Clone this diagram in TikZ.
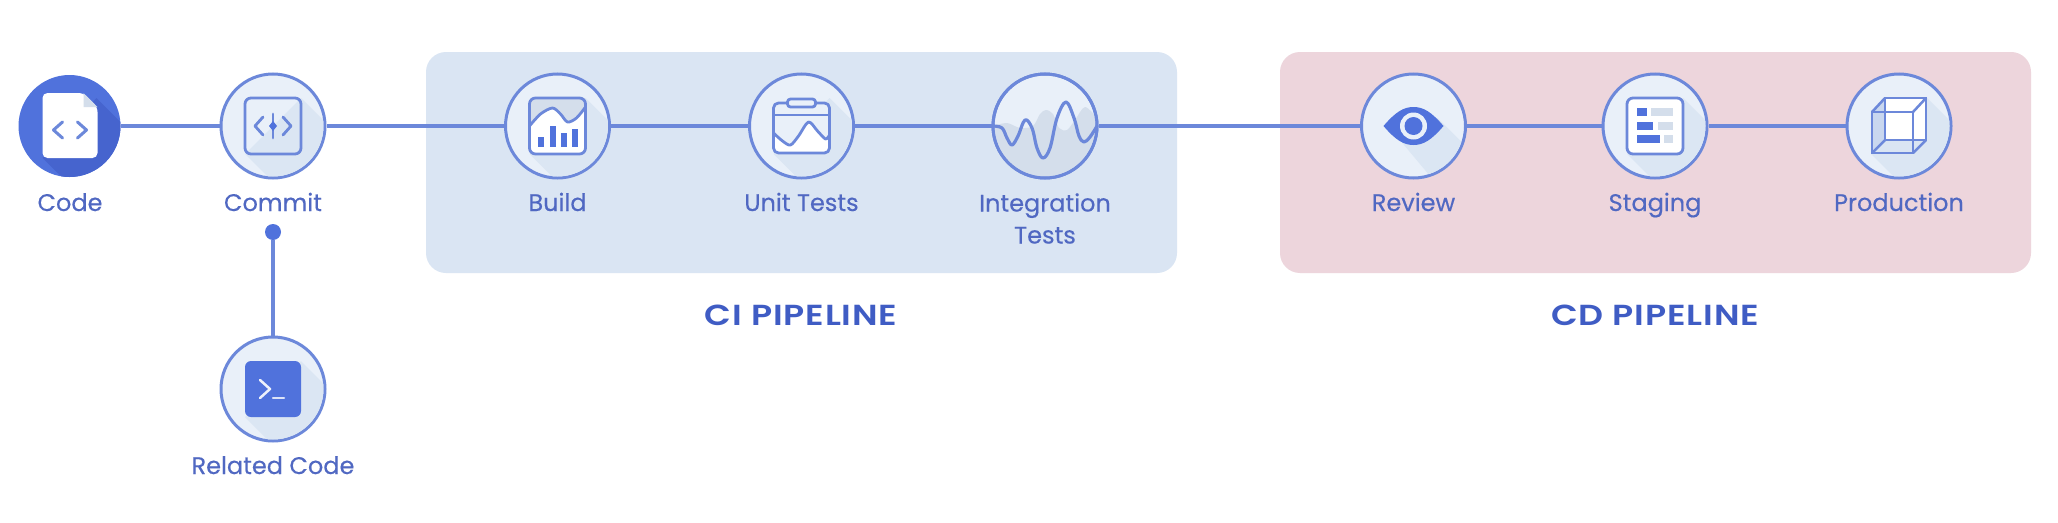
\documentclass[tikz,border=0pt]{standalone}
\usepackage{fontspec}
\setmainfont{Poppins}[FakeBold=0.35]
\newfontfamily\titlefont{Poppins SemiBold}[FakeStretch=1.2,LetterSpace=3]
\definecolor{linec}{HTML}{6C88DA}
\definecolor{iconc}{HTML}{5072DC}
\definecolor{textc}{HTML}{5068C2}
\definecolor{titlec}{HTML}{3F5CC4}
\definecolor{circf}{HTML}{E9F0F9}
\definecolor{shadec}{HTML}{DBE6F3}
\definecolor{cipanel}{HTML}{DAE5F3}
\definecolor{cdpanel}{HTML}{EDD5DC}
\definecolor{graybar}{HTML}{D4DEEB}
\definecolor{codeshade}{HTML}{4664CE}
\tikzset{
  x=1pt,y=-1pt,
  panel/.style={rounded corners=20pt,draw=none},
  stage/.style={circle,draw=linec,line width=3pt,fill=circf,minimum size=104pt,inner sep=0pt},
  link/.style={draw=linec,line width=3.2pt},
  lbl/.style={text=textc,font=\fontsize{24}{32}\selectfont,align=center,anchor=base,inner sep=0pt},
  ttl/.style={text=titlec,font=\titlefont\fontsize{29}{34}\selectfont,anchor=base,inner sep=0pt},
  ico/.style={draw=linec,line width=2.8pt,line join=round,line cap=round},
  bar/.style={fill=iconc,draw=none},
}
\newcommand{\longshade}[1]{%
  \begin{scope}[shift={(#1)}]
    \clip (0,0) circle (50.5);
    \fill[shadec] (28,-28) -- (90,34) -- (34,90) -- (-28,28) -- cycle;
  \end{scope}}
\begin{document}
\begin{tikzpicture}
\useasboundingbox (0,0) rectangle (2058,522);
\fill[white] (0,0) rectangle (2058,522);
% panels
\fill[cipanel,panel] (426,52) rectangle (1177,273);
\fill[cdpanel,panel] (1280,52) rectangle (2031,273);
% stages
\node[circle,fill=iconc,minimum size=102pt,inner sep=0pt] (code) at (69.5,126) {};
\node[stage] (commit) at (273,126) {};
\node[stage] (build) at (557.5,126) {};
\node[stage] (unit) at (801.5,126) {};
\node[stage] (integ) at (1045,126) {};
\node[stage] (review) at (1413.5,126) {};
\node[stage] (staging) at (1655,126) {};
\node[stage] (production) at (1899,126) {};
\node[stage] (related) at (273,389) {};
\node[circle,fill=iconc,minimum size=16pt,inner sep=0pt] (dot) at (273,232) {};
% connectors
\draw[link] (code) -- (commit);
\draw[link] (commit) -- (build);
\draw[link] (build) -- (unit);
\draw[link] (unit) -- (integ);
\draw[link] (integ) -- (review);
\draw[link] (review) -- (staging);
\draw[link] (staging) -- (production);
\draw[link] (dot) -- (related);
% labels
\node[lbl] (lcode) at (70,211) {Code};
\node[lbl] (lcommit) at (273,211) {Commit};
\node[lbl] (lbuild) at (557.5,211) {Build};
\node[lbl] (lunit) at (801.5,211) {Unit Tests};
\node[lbl,anchor=center] (linteg) at (1045,218.5) {Integration\\Tests};
\node[lbl] (lreview) at (1413.5,211) {Review};
\node[lbl] (lstaging) at (1655,211) {Staging};
\node[lbl] (lproduction) at (1899,211) {Production};
\node[lbl] (lrelated) at (273,474) {Related Code};
\node[ttl] (tci) at (801,325.5) {CI PIPELINE};
\node[ttl] (tcd) at (1655,325.5) {CD PIPELINE};
% long shadows
\longshade{commit}
\longshade{build}
\longshade{unit}
\longshade{staging}
\longshade{production}
\longshade{related}
\begin{scope}[shift={(review)}]
  \clip (0,0) circle (50.5);
  \fill[shadec] (24,-8) -- (90,58) -- (50,90) -- (-12,16) -- cycle;
\end{scope}
% code icon
\begin{scope}[shift={(code)}]
  \clip (0,0) circle (51);
  \fill[codeshade] (27,-28) -- (90,35) -- (34,92) -- (-27,32) -- cycle;
\end{scope}
\begin{scope}[shift={(code)}]
  \fill[white,rounded corners=5pt] (-27,-33) -- (14,-33) -- (28,-19) -- (28,32) -- (-27,32) -- cycle;
  \fill[graybar] (14,-33) -- (28,-19) -- (14,-19) -- cycle;
  \draw[ico,line width=3pt] (-7,-4) -- (-16,4) -- (-7,12);
  \draw[ico,line width=3pt] (8,-4) -- (17,4) -- (8,12);
\end{scope}
% commit icon
\begin{scope}[shift={(commit)}]
  \draw[ico,rounded corners=6pt] (-28,-28) rectangle (28,28);
  \draw[ico] (-10,-9) -- (-18,0) -- (-10,9);
  \draw[ico] (10,-9) -- (18,0) -- (10,9);
  \draw[ico] (0,-12) -- (0,12);
  \fill[iconc] (-4,0) -- (0,-5) -- (4,0) -- (0,5) -- cycle;
\end{scope}
% build icon
\begin{scope}[shift={(build)}]
  \begin{scope}
    \clip[rounded corners=6pt] (-28,-28) rectangle (28,28);
    \fill[white] (-28,-28) rectangle (28,28);
    \fill[graybar] plot[smooth] coordinates {(-28,0) (-17,-12) (-5,-18) (3,-12) (10,-4) (19,-8) (28,-19)} -- (28,-28) -- (-28,-28) -- cycle;
    \draw[ico] plot[smooth] coordinates {(-28,0) (-17,-12) (-5,-18) (3,-12) (10,-4) (19,-8) (28,-19)};
  \end{scope}
  \fill[bar] (-20,11) rectangle (-14,21);
  \fill[bar] (-8,0) rectangle (-2,21);
  \fill[bar] (3,7) rectangle (9,21);
  \fill[bar] (14,3) rectangle (20,21);
  \draw[ico,rounded corners=6pt] (-28,-28) rectangle (28,28);
\end{scope}
% unit tests icon
\begin{scope}[shift={(unit)}]
  \begin{scope}
    \clip[rounded corners=5pt] (-28,-23) rectangle (28,27);
    \fill[circf] (-28,-23) rectangle (28,27);
    \fill[white] plot[smooth] coordinates {(-28,7) (-19,15) (-11,19) (-3,10) (7,-4) (16,5) (24,13) (28,9)} -- (28,27) -- (-28,27) -- cycle;
    \draw[ico] plot[smooth] coordinates {(-28,7) (-19,15) (-11,19) (-3,10) (7,-4) (16,5) (24,13) (28,9)};
  \end{scope}
  \draw[ico] (-28,-11) -- (28,-11);
  \draw[ico,rounded corners=5pt] (-28,-23) rectangle (28,27);
  \fill[circf,rounded corners=3pt] (-14,-27) rectangle (14,-19);
  \draw[ico,rounded corners=3pt] (-14,-27) rectangle (14,-19);
\end{scope}
% integration tests icon
\begin{scope}[shift={(integ)}]
  \begin{scope}
    \clip (0,0) circle (50.5);
    \fill[graybar] plot[smooth] coordinates {(-52,0) (-38,-3) (-25,2) (-12,0) (-5,-12) (1,-16) (8,-12) (14,2) (22,4) (30,-6) (40,-19) (52,-8)} -- (52,55) -- (-52,55) -- cycle;
  \end{scope}
  \draw[ico,line width=3.2pt] plot[smooth,tension=0.6] coordinates {(-52,0) (-43,2) (-38,12) (-33,19) (-27,10) (-20,-6) (-13,2) (-8,22) (-2,32) (5,22) (12,-8) (21,-24) (29,-8) (34,10) (39,16) (45,11) (52,0)};
\end{scope}
\draw[draw=linec,line width=3pt] (integ) circle (52);
% review icon
\begin{scope}[shift={(review)}]
  \fill[iconc] (-30,0) .. controls (-18,-14) and (-10,-19) .. (0,-19) .. controls (10,-19) and (18,-14) .. (30,0) .. controls (18,14) and (10,19) .. (0,19) .. controls (-10,19) and (-18,14) .. (-30,0) -- cycle;
  \fill[circf] (0,0) circle (13.5);
  \fill[iconc] (0,0) circle (9);
\end{scope}
% staging icon
\begin{scope}[shift={(staging)}]
  \fill[white,rounded corners=6pt] (-28,-28) rectangle (28,28);
  \fill[bar] (-18,-18) rectangle (-8,-10);
  \fill[bar] (-18,-4) rectangle (-2,4);
  \fill[bar] (-18,9) rectangle (5,17);
  \fill[graybar] (-4,-18) rectangle (18,-10);
  \fill[graybar] (3,-4) rectangle (18,4);
  \fill[graybar] (9,9) rectangle (18,17);
  \draw[ico,rounded corners=6pt] (-28,-28) rectangle (28,28);
\end{scope}
% production icon
\begin{scope}[shift={(production)}]
  \fill[white] (-27,-14) -- (-14,-28) -- (27,-28) -- (27,14) -- (14,27) -- (-27,27) -- cycle;
  \fill[cipanel!85!linec] (-27,-14) -- (-14,-28) -- (-14,14) -- (-27,27) -- cycle;
  \fill[cipanel] (-27,27) -- (-14,14) -- (27,14) -- (14,27) -- cycle;
  \draw[ico,line width=2.5pt] (-27,-14) rectangle (14,27);
  \draw[ico,line width=2.5pt] (-14,-28) rectangle (27,14);
  \draw[ico,line width=2.5pt] (-27,-14) -- (-14,-28) (14,-14) -- (27,-28) (14,27) -- (27,14) (-27,27) -- (-14,14);
\end{scope}
% related code icon
\begin{scope}[shift={(related)}]
  \fill[iconc,rounded corners=6pt] (-28,-28) rectangle (28,28);
  \draw[white!90!iconc,line width=2.5pt,line cap=round,line join=round] (-13,-9) -- (-3,0) -- (-13,9);
  \draw[white!80!iconc,line width=2.5pt,line cap=round] (0,9) -- (11,9);
\end{scope}
\end{tikzpicture}
\end{document}
